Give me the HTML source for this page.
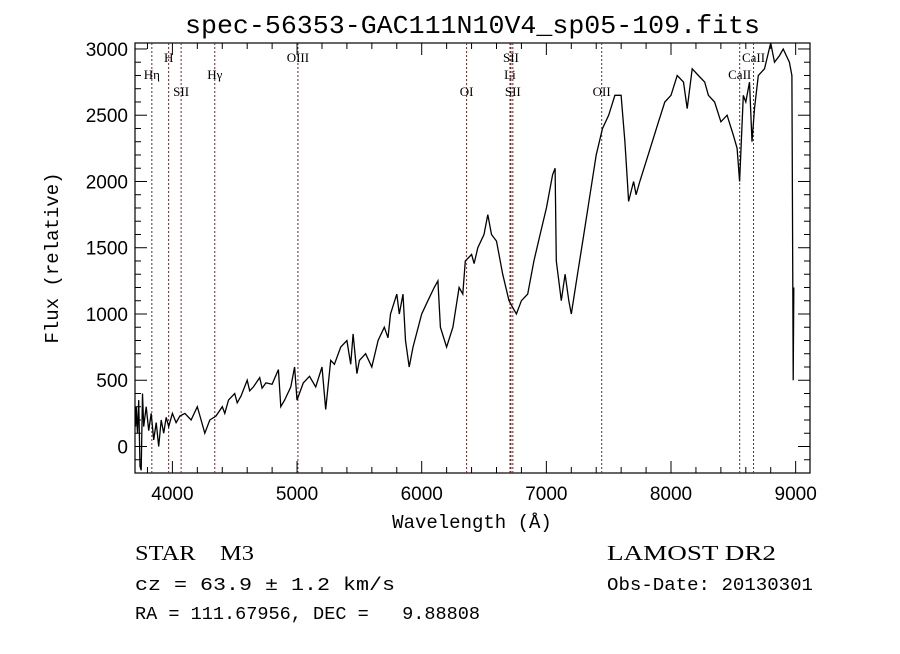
<!DOCTYPE html>
<html><head><meta charset="utf-8"><style>
body{margin:0;background:#fff;width:900px;height:649px;overflow:hidden}
svg text{fill:#000;white-space:pre}
</style></head><body>
<svg width="900" height="649" xmlns="http://www.w3.org/2000/svg">
<g id="chart"></g>
</svg>
<script>
const wavelengths=[3705,3710,3720,3730,3740,3750,3760,3770,3790,3810,3830,3850,3870,3890,3910,3930,3950,3970,4000,4030,4060,4100,4150,4200,4230,4260,4300,4350,4400,4420,4450,4500,4520,4550,4600,4620,4650,4700,4720,4750,4800,4850,4870,4900,4950,4980,5000,5050,5100,5150,5200,5230,5270,5300,5350,5400,5430,5450,5480,5500,5550,5600,5650,5700,5730,5750,5800,5820,5850,5870,5900,5930,6000,6050,6100,6130,6150,6200,6250,6300,6330,6350,6400,6420,6450,6500,6530,6560,6600,6650,6700,6730,6760,6800,6850,6900,6950,7000,7050,7070,7080,7120,7150,7180,7200,7250,7300,7350,7400,7450,7500,7550,7600,7630,7650,7660,7700,7720,7750,7800,7850,7900,7950,8000,8050,8100,8130,8170,8220,8270,8300,8350,8400,8450,8500,8530,8550,8580,8600,8630,8650,8670,8700,8750,8800,8830,8870,8900,8950,8970,8980,8985];
const fluxes=[150,300,100,350,-150,-180,400,150,300,120,250,50,180,0,200,100,220,150,250,180,230,250,200,300,200,100,200,230,300,250,350,400,330,380,500,420,450,520,440,480,470,580,300,350,450,600,350,480,530,450,600,280,650,620,750,800,620,850,550,650,700,600,800,900,820,1000,1150,1000,1150,800,600,750,1000,1100,1200,1250,900,750,900,1200,1150,1400,1450,1380,1500,1600,1750,1600,1550,1300,1100,1050,1000,1100,1150,1400,1600,1800,2050,2100,1400,1100,1300,1100,1000,1300,1600,1900,2200,2400,2500,2650,2650,2300,2000,1850,2000,1900,2000,2150,2300,2450,2600,2650,2800,2750,2550,2850,2800,2750,2650,2600,2450,2500,2350,2250,2000,2650,2600,2750,2300,2550,2800,2850,3050,2900,2950,3000,2900,2800,500,1200];
const xTicks=[4000,5000,6000,7000,8000,9000];
const yTicks=[0,500,1000,1500,2000,2500,3000];
const lineWaves=[3835,3970,4070,4340,5007,6360,6708,6716,6731,7444,8551,8662];
const labelNames=["Hη","H","SII","Hγ","OIII","OI","SII","Li","SII","OII","CaII","CaII"];
const labelWaves=[3835,3970,4070,4340,5007,6360,6716,6708,6731,7444,8662,8551];
const labelRows=[1,0,2,1,0,2,0,1,2,2,0,1];

const L=135,R=810,T=43,B=473,W0=3700,W1=9115,F0=-200,F1=3045;
const X=w=>L+(w-W0)/(W1-W0)*(R-L);
const Y=f=>B-(f-F0)/(F1-F0)*(B-T);
const NS="http://www.w3.org/2000/svg";
const g=document.getElementById('chart');
function mk(tag,attrs,parent){const e=document.createElementNS(NS,tag);for(const k in attrs)e.setAttribute(k,attrs[k]);(parent||g).appendChild(e);return e;}
function txt(s,x,y,size,fam,anchor,name,tl){const e=mk('text',{x:x,y:y,'font-size':size,'font-family':fam,'text-anchor':anchor||'start'});e.setAttributeNS('http://www.w3.org/XML/1998/namespace','xml:space','preserve');if(tl){e.setAttribute('textLength',tl);e.setAttribute('lengthAdjust','spacingAndGlyphs');}e.textContent=s;
return e;}

const fr=mk('rect',{x:L,y:T,width:R-L,height:B-T,fill:'none',stroke:'#000','stroke-width':1.2});



for(let w=3800;w<=9100;w+=200){const major=w%1000===0;const len=major?12:6;const x=X(w);
const t1=mk('line',{x1:x,x2:x,y1:B,y2:B-len,stroke:'#000'});

const t2=mk('line',{x1:x,x2:x,y1:T,y2:T+len,stroke:'#000'});
}
xTicks.forEach(w=>txt(String(w),X(w),500,19,'Liberation Sans, sans-serif','middle','x-tick-label'));
for(let f=-200;f<=3000;f+=100){const major=f%500===0;const len=major?12:6;const y=Y(f);
const t1=mk('line',{x1:L,x2:L+len,y1:y,y2:y,stroke:'#000'});

const t2=mk('line',{x1:R,x2:R-len,y1:y,y2:y,stroke:'#000'});
}
yTicks.forEach(f=>txt(String(f),128,Y(f)+7,19,'Liberation Sans, sans-serif','end','y-tick-label'));

lineWaves.forEach(w=>{const l=mk('line',{x1:X(w),x2:X(w),y1:T,y2:B,stroke:'#7a2020','stroke-width':1,'stroke-dasharray':'2,2'});

});
labelNames.forEach((n,i)=>txt(n,X(labelWaves[i]),62+labelRows[i]*17,13,'Liberation Serif, serif','middle','spectral-line-label'));

let d='';wavelengths.forEach((w,i)=>{d+=(i?'L':'M')+X(w).toFixed(1)+','+Math.max(T,Math.min(B,Y(fluxes[i]))).toFixed(1);});
const p=mk('path',{d:d,fill:'none',stroke:'#000','stroke-width':1.3});



txt('spec-56353-GAC111N10V4_sp05-109.fits',185,33,26,'Liberation Mono, monospace','start','chart-title',575);
txt('Wavelength (Å)',472,528,19,'Liberation Mono, monospace','middle','x-axis-title');
const yt=txt('Flux (relative)',0,0,19,'Liberation Mono, monospace','middle','y-axis-title');yt.setAttribute('transform','translate(58,258) rotate(-90)');
txt('STAR    M3',135,560,21,'Liberation Serif, serif','start','object-class',119);
txt('cz = 63.9 ± 1.2 km/s',135,590,18,'Liberation Mono, monospace','start','redshift-info',260);
txt('RA = 111.67956, DEC =   9.88808',135,619,18,'Liberation Mono, monospace','start','coordinates-info',345);
txt('LAMOST DR2',607,560,21,'Liberation Serif, serif','start','survey-label',169);
txt('Obs-Date: 20130301',607,590,18,'Liberation Mono, monospace','start','obs-date',206);
</script>
</body></html>
